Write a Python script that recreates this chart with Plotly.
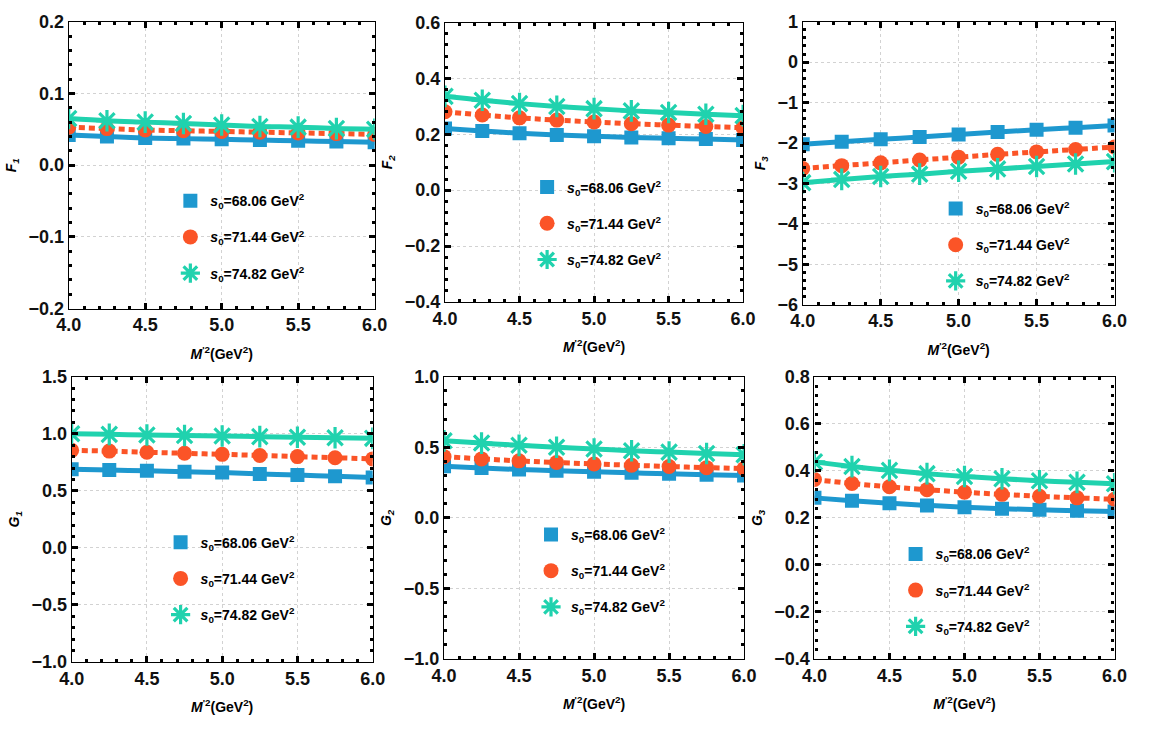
import plotly.graph_objects as go
from plotly.subplots import make_subplots

# ---------------- data ----------------
M2 = [4.0, 4.25, 4.5, 4.75, 5.0, 5.25, 5.5, 5.75, 6.0]
series_names = ["s0=68.06", "s0=71.44", "s0=74.82"]
legend_labels = ["<b><i>s</i><sub>0</sub>=68.06 GeV<sup>2</sup></b>",
                 "<b><i>s</i><sub>0</sub>=71.44 GeV<sup>2</sup></b>",
                 "<b><i>s</i><sub>0</sub>=74.82 GeV<sup>2</sup></b>"]

F1_a = [0.042, 0.040, 0.038, 0.037, 0.036, 0.035, 0.034, 0.033, 0.032]
F1_b = [0.053, 0.051, 0.049, 0.048, 0.047, 0.046, 0.045, 0.044, 0.043]
F1_c = [0.065, 0.062, 0.060, 0.058, 0.056, 0.054, 0.053, 0.051, 0.050]

F2_a = [0.221, 0.212, 0.204, 0.198, 0.193, 0.189, 0.186, 0.183, 0.180]
F2_b = [0.281, 0.269, 0.259, 0.251, 0.244, 0.238, 0.233, 0.228, 0.224]
F2_c = [0.336, 0.322, 0.310, 0.300, 0.292, 0.284, 0.278, 0.272, 0.267]

F3_a = [-2.03, -1.97, -1.91, -1.85, -1.79, -1.73, -1.67, -1.62, -1.57]
F3_b = [-2.63, -2.56, -2.49, -2.42, -2.35, -2.28, -2.22, -2.16, -2.10]
F3_c = [-2.98, -2.90, -2.83, -2.77, -2.70, -2.64, -2.58, -2.52, -2.46]

G1_a = [0.690, 0.683, 0.675, 0.667, 0.660, 0.648, 0.638, 0.628, 0.617]
G1_b = [0.855, 0.848, 0.838, 0.829, 0.820, 0.810, 0.800, 0.790, 0.780]
G1_c = [1.000, 0.995, 0.990, 0.985, 0.980, 0.975, 0.970, 0.965, 0.960]

G2_a = [0.365, 0.353, 0.343, 0.334, 0.326, 0.319, 0.312, 0.306, 0.300]
G2_b = [0.434, 0.418, 0.404, 0.392, 0.382, 0.373, 0.364, 0.356, 0.349]
G2_c = [0.546, 0.530, 0.514, 0.500, 0.488, 0.476, 0.466, 0.456, 0.447]

G3_a = [0.285, 0.273, 0.262, 0.253, 0.245, 0.239, 0.234, 0.230, 0.227]
G3_b = [0.363, 0.346, 0.332, 0.320, 0.309, 0.300, 0.292, 0.285, 0.279]
G3_c = [0.438, 0.418, 0.402, 0.388, 0.376, 0.366, 0.358, 0.351, 0.345]

panel_labels = ["F<sub>1</sub>", "F<sub>2</sub>", "F<sub>3</sub>",
                "G<sub>1</sub>", "G<sub>2</sub>", "G<sub>3</sub>"]
panel_data = [(F1_a, F1_b, F1_c), (F2_a, F2_b, F2_c), (F3_a, F3_b, F3_c),
              (G1_a, G1_b, G1_c), (G2_a, G2_b, G2_c), (G3_a, G3_b, G3_c)]
y_ranges = [(-0.2, 0.2), (-0.4, 0.6), (-6, 1), (-1.0, 1.5), (-1.0, 1.0), (-0.4, 0.8)]
y_dticks = [0.1, 0.2, 1, 0.5, 0.5, 0.2]
y_formats = [".1f", ".1f", "d", ".1f", ".1f", ".1f"]

# ---------------- style ----------------
W, H = 1150, 738
colors = ["#1E98CF", "#FB5427", "#20D2AE"]
symbols = ["square", "circle", "asterisk-open"]
msizes = [14, 15, 18]
dashes = ["solid", "6px,4px", "solid"]
FONT = "Liberation Sans Narrow, Arial Narrow, Liberation Sans, Arial, sans-serif"

# plot areas in pixels: (left, right, top, bottom)
boxes = [(57, 370, 12, 307), (442, 747, 13, 300), (808, 1127, 12, 303),
         (60, 368, 377, 670), (441, 748, 377, 667), (820, 1127, 377, 667)]
# legend first-marker centre in pixels
legend_pos = [(183, 192), (548, 178), (966, 200), (173, 543), (552, 535), (925, 555)]

fig = make_subplots(rows=2, cols=3)

for i, (ys, lab) in enumerate(zip(panel_data, panel_labels)):
    r, c = i // 3 + 1, i % 3 + 1
    leg = "legend" if i == 0 else f"legend{i + 1}"
    for k in range(3):
        mline = dict(width=0) if k < 2 else dict(width=3.2, color=colors[k])
        fig.add_trace(go.Scatter(
            x=M2, y=ys[k], mode="lines+markers",
            line=dict(color=colors[k], width=5, dash=dashes[k], shape="spline"),
            marker=dict(symbol=symbols[k], size=msizes[k], color=colors[k], line=mline),
            showlegend=False, name=series_names[k]), row=r, col=c)
    for k in range(3):
        mline = dict(width=0) if k < 2 else dict(width=3.2, color=colors[k])
        fig.add_trace(go.Scatter(
            x=[None], y=[None], mode="markers",
            marker=dict(symbol=symbols[k], size=msizes[k], color=colors[k], line=mline),
            name=legend_labels[k], legend=leg, legendgroup=f"g{i}_{k}",
            showlegend=True), row=r, col=c)

    L, R, T, B = boxes[i]
    xa = "xaxis" if i == 0 else f"xaxis{i + 1}"
    ya = "yaxis" if i == 0 else f"yaxis{i + 1}"
    axis_common = dict(
        showline=True, linecolor="black", linewidth=1.2, mirror="allticks",
        ticks="inside", ticklen=6, tickwidth=3, tickcolor="black",
        showgrid=True, gridcolor="#d2d2d2", griddash="dot", gridwidth=1,
        zeroline=False,
        tickfont=dict(family=FONT, size=18, color="#111111", weight="bold"),
    )
    fig.layout[xa].update(
        domain=[L / W, R / W], range=[4.0, 6.0], dtick=0.5, tick0=4.0,
        tickformat=".1f",
        minor=dict(ticks="inside", dtick=0.1, ticklen=3, tickwidth=3,
                   tickcolor="black", showgrid=False),
        title=dict(text="<b><i>M</i><sup>'2</sup>(GeV<sup>2</sup>)</b>",
                   font=dict(family=FONT, size=14, color="black"), standoff=14),
        **axis_common)
    fig.layout[ya].update(
        domain=[1 - B / H, 1 - T / H], range=list(y_ranges[i]), dtick=y_dticks[i],
        tickformat=y_formats[i],
        minor=dict(ticks="inside", dtick=y_dticks[i] / 5, ticklen=3, tickwidth=3,
                   tickcolor="black", showgrid=False),
        title=dict(text=f"<b><i>{lab}</i></b>",
                   font=dict(family=FONT, size=14, color="black"), standoff=8),
        **axis_common)

    mx, my = legend_pos[i]
    fig.layout[leg] = dict(
        x=(mx - 22) / W, y=1 - (my - 12) / H, xanchor="left", yanchor="top",
        bgcolor="rgba(0,0,0,0)", borderwidth=0, tracegroupgap=15,
        itemwidth=30, traceorder="grouped",
        font=dict(family=FONT, size=14, color="black"))

fig.update_layout(
    width=W, height=H, margin=dict(l=0, r=0, t=0, b=0),
    paper_bgcolor="white", plot_bgcolor="white",
)

fig.write_html("out.html")
